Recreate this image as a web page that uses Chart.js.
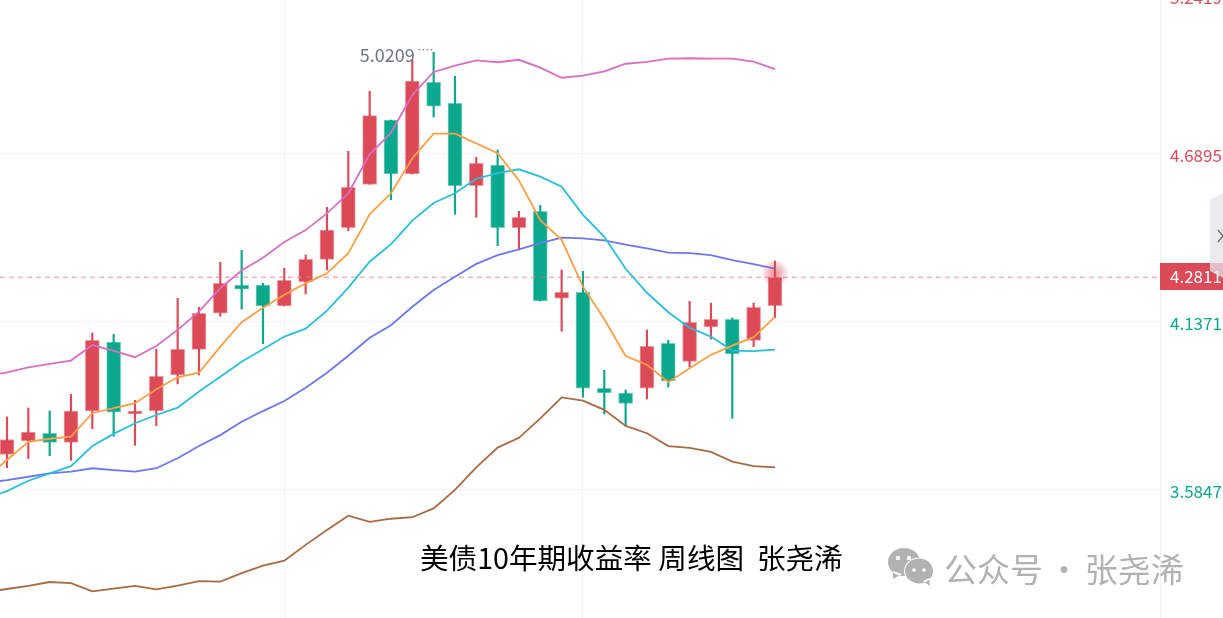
<!DOCTYPE html>
<html>
<head>
<meta charset="utf-8">
<title>美债10年期收益率 周线图</title>
<script src="https://cdn.jsdelivr.net/npm/chart.js@4"></script>
<style>
  html, body { margin: 0; padding: 0; background: #fff; overflow: hidden; }
  canvas { display: block; }
</style>
</head>
<body>
<canvas id="chartYield" width="1223" height="618"></canvas>
<script>
// Weekly candles, oldest first
var opens = [3.6982, 3.7426, 3.7679, 3.7383, 3.8412, 4.0681, 3.8314, 3.8412, 3.9596, 4.0441, 4.1625, 4.2555, 4.2555, 4.1865, 4.2654, 4.3400, 4.4439, 4.5866, 4.7980, 4.6205, 4.9220, 4.8529, 4.5820, 4.6501, 4.4439, 4.4978, 4.2118, 4.2315, 3.9159, 3.9004, 3.9159, 4.0638, 4.0046, 4.1174, 4.1427, 4.0737, 4.1875];
var highs = [3.8215, 3.8511, 3.8412, 3.8961, 4.0977, 4.0934, 3.8764, 4.0441, 4.2118, 4.1822, 4.3302, 4.3696, 4.2611, 4.3104, 4.3542, 4.5110, 4.6951, 4.8924, 4.7980, 4.9953, 5.0209, 4.9417, 4.6754, 4.6994, 4.4978, 4.5176, 4.3048, 4.3006, 3.9751, 3.9103, 4.1076, 4.0737, 4.2019, 4.1963, 4.1470, 4.1963, 4.3344];
var lows = [3.6548, 3.6844, 3.6943, 3.6791, 3.7830, 3.7580, 3.7285, 3.7929, 3.9300, 3.9596, 4.1526, 4.1766, 4.0625, 4.1865, 4.2259, 4.3048, 4.4341, 4.5866, 4.5360, 4.6205, 4.8079, 4.4880, 4.4781, 4.3847, 4.3706, 4.2029, 4.1033, 3.8863, 3.8314, 3.7919, 3.8807, 3.9201, 3.9849, 4.0780, 3.8172, 4.0527, 4.1480];
var closes = [3.7475, 3.7722, 3.7383, 3.8412, 4.0737, 3.8370, 3.8412, 3.9553, 4.0441, 4.1625, 4.2611, 4.2414, 4.1865, 4.2710, 4.3400, 4.4364, 4.5768, 4.8122, 4.6205, 4.9263, 4.8431, 4.5820, 4.6557, 4.4439, 4.4781, 4.2029, 4.2315, 3.9159, 3.9004, 3.8665, 4.0540, 3.9399, 4.1329, 4.1427, 4.0286, 4.1822, 4.2811];

// Overlays start one week before the first candle, so they run off the left edge
var ma5 = [3.621, 3.680, 3.740, 3.750, 3.757, 3.834, 3.851, 3.867, 3.913, 3.952, 3.967, 4.053, 4.133, 4.181, 4.223, 4.261, 4.294, 4.360, 4.488, 4.557, 4.672, 4.753, 4.753, 4.721, 4.689, 4.599, 4.469, 4.404, 4.250, 4.143, 4.022, 3.993, 3.936, 3.982, 4.026, 4.056, 4.084, 4.151];
var ma10 = [3.552, 3.578, 3.612, 3.636, 3.660, 3.726, 3.766, 3.801, 3.828, 3.852, 3.905, 3.954, 4.003, 4.044, 4.086, 4.112, 4.171, 4.247, 4.332, 4.390, 4.467, 4.525, 4.557, 4.605, 4.623, 4.636, 4.612, 4.579, 4.486, 4.414, 4.309, 4.230, 4.166, 4.115, 4.086, 4.040, 4.038, 4.043];
var ma20 = [3.605, 3.614, 3.625, 3.636, 3.642, 3.653, 3.647, 3.642, 3.653, 3.686, 3.726, 3.762, 3.806, 3.841, 3.874, 3.918, 3.967, 4.023, 4.082, 4.123, 4.184, 4.239, 4.283, 4.325, 4.354, 4.373, 4.393, 4.411, 4.409, 4.402, 4.388, 4.376, 4.362, 4.360, 4.354, 4.337, 4.324, 4.309];
var bollUpper = [3.956, 3.968, 3.985, 3.996, 4.007, 4.058, 4.039, 4.018, 4.055, 4.108, 4.168, 4.245, 4.303, 4.345, 4.397, 4.436, 4.491, 4.557, 4.685, 4.756, 4.880, 4.956, 4.977, 4.994, 4.988, 4.996, 4.970, 4.937, 4.944, 4.958, 4.983, 4.989, 5.000, 5.001, 5.000, 5.000, 4.990, 4.965];
var bollLower = [3.246, 3.256, 3.266, 3.279, 3.275, 3.248, 3.257, 3.266, 3.255, 3.267, 3.282, 3.280, 3.308, 3.333, 3.349, 3.401, 3.450, 3.497, 3.477, 3.487, 3.492, 3.521, 3.582, 3.656, 3.721, 3.753, 3.817, 3.886, 3.875, 3.845, 3.792, 3.768, 3.726, 3.720, 3.707, 3.675, 3.660, 3.656];

var yTickValues = [5.2419, 4.6895, 4.1371, 3.5847];
var xGridWeeks = [13, 27];

var lastPrice = closes[closes.length - 1];
var peakWeek = 20;

var RED = '#dc4a57';
var GREEN = '#0aa88c';
var FONT = '"Noto Sans CJK SC", "Noto Sans", sans-serif';
var weekLeft = -0.328, weekRight = 54.05; // visible week range
var priceTop = 5.1926, priceBottom = 3.1606;

function candleColor(i, alpha) {
  var up = closes[i] >= opens[i];
  if (alpha) return up ? 'rgba(220,74,87,' + alpha + ')' : 'rgba(10,168,140,' + alpha + ')';
  return up ? RED : GREEN;
}

function lineSet(label, values, color) {
  return {
    type: 'line',
    label: label,
    data: values.map(function (v, i) { return { x: i - 1, y: v }; }),
    borderColor: color,
    borderWidth: 1.8,
    pointRadius: 0,
    tension: 0,
    order: 0,
  };
}

var wickData = highs.map(function (h, i) { return { x: i, y: [lows[i], h] }; });
var bodyData = opens.map(function (o, i) { return { x: i, y: [o, closes[i]] }; });

// Everything the axes don't draw: price tag, peak label, caption, watermark
var extras = {
  id: 'extras',
  afterDraw: function (chart) {
    var c = chart.ctx;
    var x = chart.scales.x, y = chart.scales.y;
    c.save();

    // pulse on the last candle
    var gx = x.getPixelForValue(closes.length - 1);
    var gy = y.getPixelForValue(lastPrice) - 4;
    var glow = c.createRadialGradient(gx, gy, 2, gx, gy, 14);
    glow.addColorStop(0, 'rgba(220,74,87,0.55)');
    glow.addColorStop(1, 'rgba(220,74,87,0)');
    c.fillStyle = glow;
    c.beginPath();
    c.arc(gx, gy, 14, 0, Math.PI * 2);
    c.fill();

    // peak label
    var px = x.getPixelForValue(peakWeek);
    var py = y.getPixelForValue(highs[peakWeek]);
    c.fillStyle = '#6f7683';
    c.font = '18px ' + FONT;
    c.textAlign = 'right';
    c.textBaseline = 'middle';
    c.fillText(highs[peakWeek].toFixed(4), px - 19, py + 3);
    c.strokeStyle = '#555b66';
    c.lineWidth = 1;
    c.setLineDash([1.5, 2.5]);
    c.beginPath();
    c.moveTo(px - 15, py - 2.5);
    c.lineTo(px, py - 2.5);
    c.stroke();
    c.setLineDash([]);

    // top tick sits above the plot, the label stays stuck to the edge
    c.textAlign = 'left';
    c.fillStyle = RED;
    c.font = '17px ' + FONT;
    c.fillText(yTickValues[0].toFixed(4), 1170, -2);

    // current price tag
    var tagY = Math.round(y.getPixelForValue(lastPrice));
    c.fillStyle = RED;
    c.fillRect(1160, tagY - 14, 63, 27);
    c.fillStyle = '#fff';
    c.fillText(lastPrice.toFixed(4), 1170, tagY);

    // collapsed side panel
    c.fillStyle = 'rgba(228,228,234,0.75)';
    c.beginPath();
    c.moveTo(1210, 200);
    c.lineTo(1223, 193);
    c.lineTo(1223, 278);
    c.lineTo(1210, 271);
    c.closePath();
    c.fill();
    c.strokeStyle = '#6b7280';
    c.lineWidth = 1.5;
    c.beginPath();
    c.moveTo(1218, 230);
    c.lineTo(1228, 242);
    c.moveTo(1218, 242);
    c.lineTo(1228, 230);
    c.stroke();

    // caption
    c.fillStyle = '#000';
    c.font = '28.6px ' + FONT;
    c.fillText('美债10年期收益率 周线图  张尧浠', 420, 558);

    // watermark
    c.fillStyle = '#b2b2b2';
    c.font = '33px ' + FONT;
    c.wordSpacing = '-3px';
    c.fillText('公众号 · 张尧浠', 944, 569);
    c.wordSpacing = '0px';
    c.beginPath();
    c.ellipse(904, 562, 16, 14, 0, 0, Math.PI * 2);
    c.moveTo(893, 571);
    c.lineTo(893, 579);
    c.lineTo(902, 574);
    c.fill();
    c.strokeStyle = '#fff';
    c.lineWidth = 2;
    c.beginPath();
    c.ellipse(919, 571, 14, 12.5, 0, 0, Math.PI * 2);
    c.stroke();
    c.beginPath();
    c.ellipse(919, 571, 14, 12.5, 0, 0, Math.PI * 2);
    c.moveTo(923, 581);
    c.lineTo(930, 586);
    c.lineTo(929, 578);
    c.fill();
    c.fillStyle = '#fff';
    [[898, 558, 2.2], [909, 558, 2.2], [914, 570, 1.8], [924, 570, 1.8]].forEach(function (d) {
      c.beginPath();
      c.arc(d[0], d[1], d[2], 0, Math.PI * 2);
      c.fill();
    });

    c.restore();
  },
};

var ctx = document.getElementById('chartYield').getContext('2d');
var myChart = new Chart(ctx, {
  type: 'bar',
  data: {
    datasets: [
      lineSet('MA5', ma5, '#ff9f45'),
      lineSet('MA10', ma10, '#28bfdc'),
      lineSet('MA20', ma20, '#6c78ef'),
      lineSet('BOLL upper', bollUpper, '#d96ec4'),
      lineSet('BOLL lower', bollLower, '#a96a42'),
      {
        type: 'line',
        label: 'Last price',
        data: [{ x: weekLeft, y: lastPrice }, { x: weekRight, y: lastPrice }],
        borderColor: 'rgba(240,110,125,0.8)',
        borderWidth: 1,
        borderDash: [5, 4],
        pointRadius: 0,
        order: 1,
      },
      {
        label: 'Body',
        data: bodyData,
        grouped: false,
        barThickness: 14,
        backgroundColor: opens.map(function (o, i) { return candleColor(i); }),
        borderColor: opens.map(function (o, i) { return candleColor(i, 0.55); }),
        borderWidth: 1,
        borderSkipped: false,
        order: 2,
      },
      {
        label: 'Wick',
        data: wickData,
        grouped: false,
        barThickness: 1.5,
        backgroundColor: opens.map(function (o, i) { return candleColor(i); }),
        order: 3,
      },
    ],
  },
  options: {
    responsive: false,
    animation: false,
    devicePixelRatio: 1,
    layout: { padding: 0 },
    plugins: { legend: { display: false }, tooltip: { enabled: false } },
    scales: {
      x: {
        type: 'linear',
        offset: false,
        min: weekLeft,
        max: weekRight,
        afterBuildTicks: function (axis) {
          axis.ticks = xGridWeeks.map(function (w) { return { value: w }; });
        },
        afterFit: function (axis) {
          axis.height = 0;
          axis.paddingLeft = 0;
          axis.paddingRight = 0;
        },
        ticks: { display: false },
        grid: { color: '#f3f4f8', lineWidth: 1, drawTicks: false, offset: false },
        border: { display: false },
      },
      y: {
        position: 'right',
        min: priceBottom,
        max: priceTop,
        afterBuildTicks: function (axis) {
          // the top value is off the plot, extras draws it
          axis.ticks = yTickValues.slice(1).map(function (v) { return { value: v }; });
        },
        afterFit: function (axis) {
          axis.width = 63;
          // let the plot run to the canvas edges
          axis.paddingTop = 0;
          axis.paddingBottom = 0;
        },
        ticks: {
          padding: 10,
          labelOffset: 3,
          font: { family: FONT, size: 17 },
          color: function (c) { return c.tick.value > lastPrice ? RED : GREEN; },
          callback: function (v) { return v.toFixed(4); },
        },
        grid: { color: '#f3f4f8', lineWidth: 1, drawTicks: false },
        border: { display: true, color: '#eceef3' },
      },
    },
  },
  plugins: [extras],
});
</script>
</body>
</html>
